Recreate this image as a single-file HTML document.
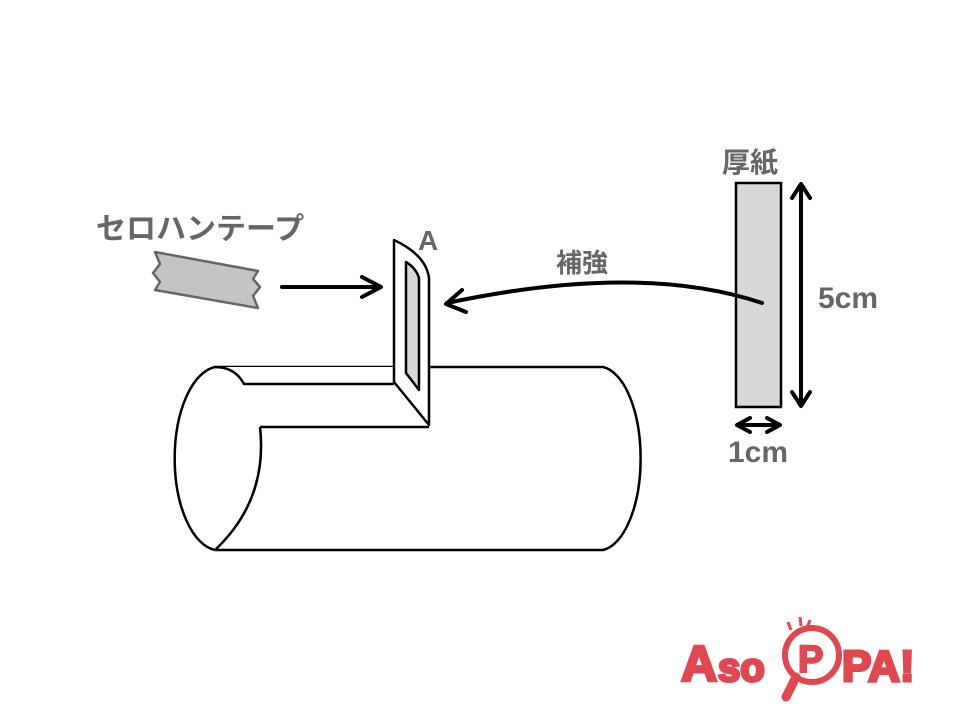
<!DOCTYPE html>
<html><head><meta charset="utf-8"><style>
body{margin:0;background:#fff;}
svg{display:block}
text{font-family:"Liberation Sans","Noto Sans CJK JP",sans-serif;font-weight:bold;fill:#666}
</style></head><body>
<svg width="960" height="720" viewBox="0 0 960 720" xmlns="http://www.w3.org/2000/svg">
<g fill="#fff" stroke="#000" stroke-width="2.5" stroke-linejoin="round">
 <path d="M215,367 L603,367 A42,92 0 0 1 603,550 L215,550 A45,92 0 0 1 215,367 Z"/>
 <path d="M215,367 Q235,367 244,384 L394,384 L394,367 Z" stroke="none"/>
 <path d="M215,367 Q235,367 244,384 L394,384"/>
 <path d="M260,427 L429,427"/>
 <path d="M260,427 Q268,500 215,550" fill="none"/>
 <path d="M394,240 Q426,255 429,278 L429,425 L394,382 Z"/>
 <path d="M406,262 Q416,268 419,278 L419,390 L406,373 Z" fill="#d8d8d8"/>
</g>
<path d="M155,252 L258,271 L253,279 L260,287 L253,296 L258,308 L155,290 L160,282 L153,273 L160,264 Z" fill="#c4c4c4" stroke="#666" stroke-width="2.5" stroke-linejoin="round"/>
<rect x="736" y="183" width="45" height="224" fill="#d8d8d8" stroke="#000" stroke-width="2.5"/>
<g stroke="#000" stroke-width="4" fill="none" stroke-linecap="round" stroke-linejoin="round">
 <path d="M282,287 L380,287"/>
 <path d="M362,277 L381,287 L362,297"/>
 <path d="M762,303 Q640,262 447,303"/>
 <path d="M462,290 L446,304 L466,312"/>
 <path d="M801,185 L801,405"/>
 <path d="M792,198 L801,184 L810,198 M792,392 L801,406 L810,392"/>
 <path d="M738,425 L779,425"/>
 <path d="M750,418 L737,425 L750,432 M767,418 L780,425 L767,432"/>
</g>
<text x="96" y="239" font-size="30">セロハンテープ</text>
<text x="418" y="250" font-size="28">A</text>
<text x="556" y="272" font-size="26">補強</text>
<text x="722" y="172" font-size="28">厚紙</text>
<text x="818" y="308" font-size="30">5cm</text>
<text x="728" y="462" font-size="30">1cm</text>
<g font-family="Liberation Sans" font-weight="bold">
 <text x="681" y="681" font-size="50" style="fill:#e0474f;stroke:#e0474f;stroke-width:3">A</text>
 <text x="718" y="681" font-size="40" style="fill:#e0474f;stroke:#e0474f;stroke-width:3">so</text>
 <circle cx="812" cy="655" r="27" fill="#fff" stroke="#e0474f" stroke-width="6"/>
 <path d="M796,677 L786,697" stroke="#e0474f" stroke-width="9" stroke-linecap="round"/>
 <text x="798" y="672" font-size="38" style="fill:#e0474f;stroke:#e0474f;stroke-width:2">P</text>
 <text x="842" y="681" font-size="44" style="fill:#e0474f;stroke:#e0474f;stroke-width:3">PA!</text>
 <path d="M788,622 L791,630 M800,617 L801,626 M810,620 L807,628" stroke="#e0474f" stroke-width="3"/>
</g>
</svg>
</body></html>
